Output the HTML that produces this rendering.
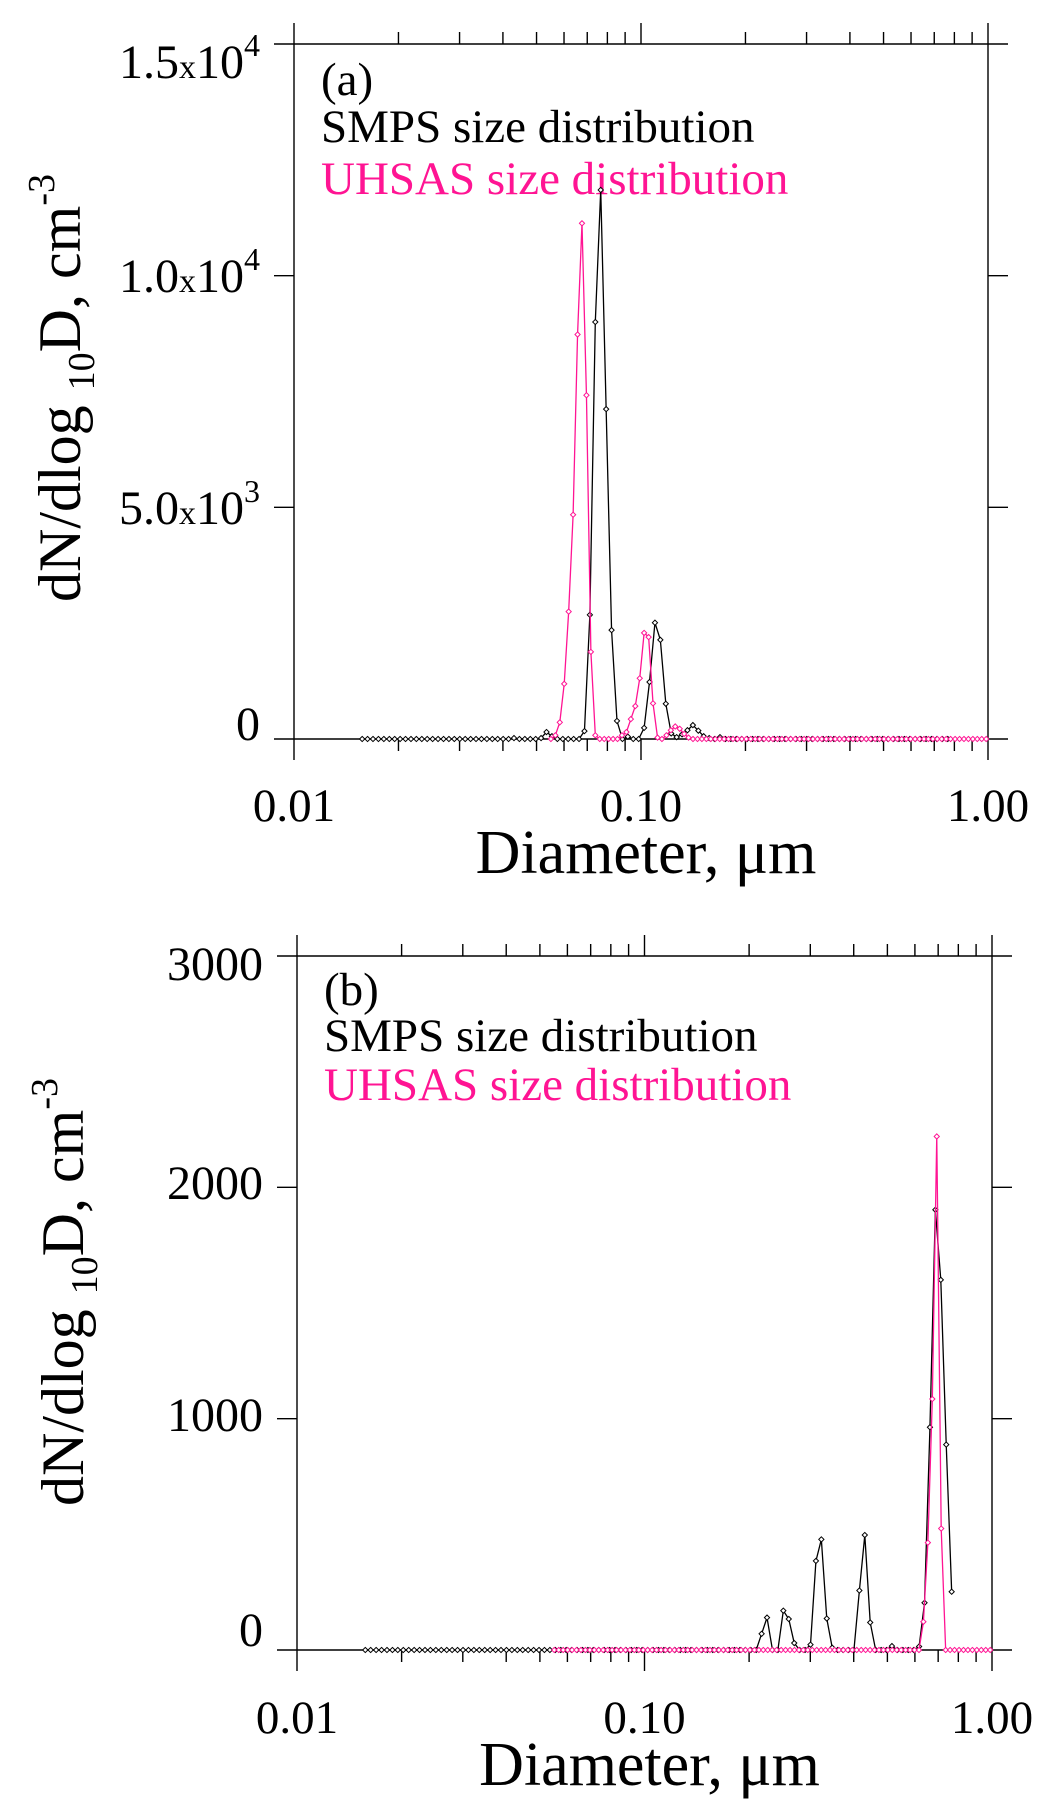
<!DOCTYPE html>
<html><head><meta charset="utf-8">
<style>
html,body{margin:0;padding:0;background:#fff;}
svg{display:block;font-family:"Liberation Serif","Times New Roman",serif;}
</style></head>
<body>
<svg id="fig" width="1051" height="1808" viewBox="0 0 1051 1808" xmlns="http://www.w3.org/2000/svg">
  <rect width="1051" height="1808" fill="#fff"/>
  <g id="panelA"></g>
  <g id="panelB"></g>
</svg>
<script>
// ---- data ----
const smpsDiam = [0.01572,0.01629,0.01689,0.01751,0.01815,0.01882,0.01950,0.02022,0.02096,0.02173,
0.02252,0.02335,0.02420,0.02509,0.02601,0.02697,0.02795,0.02897,0.03004,0.03114,
0.03228,0.03346,0.03469,0.03596,0.03728,0.03864,0.04006,0.04153,0.04305,0.04462,
0.04626,0.04796,0.04971,0.05153,0.05342,0.05538,0.05741,0.05951,0.06169,0.06395,
0.06629,0.06871,0.07123,0.07384,0.07655,0.07935,0.08226,0.08527,0.08840,0.09163,
0.09499,0.09847,0.1021,0.1058,0.1097,0.1137,0.1179,0.1222,0.1267,0.1313,
0.1361,0.1411,0.1463,0.1516,0.1572,0.1629,0.1689,0.1751,0.1815,0.1882,
0.1950,0.2022,0.2096,0.2173,0.2252,0.2335,0.2420,0.2509,0.2601,0.2697,
0.2795,0.2897,0.3004,0.3114,0.3228,0.3346,0.3469,0.3596,0.3728,0.3864,
0.4006,0.4153,0.4305,0.4462,0.4626,0.4796,0.4971,0.5153,0.5342,0.5538,
0.5741,0.5951,0.6169,0.6395,0.6629,0.6871,0.7123,0.7384,0.7655];
const uhsasDiam = [0.05500,0.05665,0.05834,0.06008,0.06188,0.06373,0.06564,0.06760,0.06963,0.07171,
0.07385,0.07606,0.07834,0.08068,0.08309,0.08558,0.08814,0.09078,0.09349,0.09629,
0.09917,0.1021,0.1052,0.1083,0.1116,0.1149,0.1184,0.1219,0.1255,0.1293,
0.1332,0.1371,0.1412,0.1455,0.1498,0.1543,0.1589,0.1637,0.1686,0.1736,
0.1788,0.1841,0.1896,0.1953,0.2011,0.2072,0.2134,0.2197,0.2263,0.2331,
0.2400,0.2473,0.2547,0.2623,0.2701,0.2782,0.2865,0.2951,0.3039,0.3130,
0.3224,0.3320,0.3419,0.3522,0.3627,0.3735,0.3847,0.3962,0.4081,0.4203,
0.4328,0.4458,0.4591,0.4728,0.4870,0.5015,0.5165,0.5320,0.5479,0.5642,
0.5811,0.5985,0.6164,0.6348,0.6538,0.6734,0.6935,0.7142,0.7356,0.7576,
0.7802,0.8038,0.8279,0.8526,0.8781,0.9044,0.9314,0.9593,0.9880];
const smpsA = [0,0,0,0,0,0,0,0,0,0, 0,0,0,0,0,0,0,0,0,0, 0,0,0,0,0,0,0,0,20,0,
0,0,0,20,150,60,0,0,0,0, 0,170,2680,9000,11850,7120,2350,390,0,50,
0,0,240,1230,2510,2140,760,120,40,100, 190,300,180,60,20,0,40,0,0,0,
0,0,0,0,0,0,0,0,0,0, 0,0,0,0,0,0,0,0,0,0, 0,0,0,0,0,0,0,0,0,0, 0,0,0,0,0,0,0,0,0];
const uhsasA = [0,80,360,1190,2750,4840,8730,11130,7420,1880,
80,0,0,0,0,0,80,150,430,710, 1310,2290,2200,770,30,0,80,190,270,220,
110,30,0,0,0,0,0,0,0,0, 0,0,0,0,0,0,0,0,0,0, 0,0,0,0,0,0,0,0,0,0,
0,0,0,0,0,0,0,0,0,0, 0,0,0,0,0,0,0,0,0,0, 0,0,0,0,0,0,0,0,0,0, 0,0,0,0,0,0,0,0,0];
const smpsB = [0,0,0,0,0,0,0,0,0,0, 0,0,0,0,0,0,0,0,0,0, 0,0,0,0,0,0,0,0,0,0,
0,0,0,0,0,0,0,0,0,0, 0,0,0,0,0,0,0,0,0,0, 0,0,0,0,0,0,0,0,0,0, 0,0,0,0,0,0,0,0,0,0,
0,0,0,70,140,0,0,170,134,30, 0,0,23,385,478,136,10,0,0,0,
0,257,497,119,0,0,0,17,0,0, 0,0,15,204,963,1903,1600,888,252];
const uhsasB = [0,0,0,0,0,0,0,0,0,0, 0,0,0,0,0,0,0,0,0,0, 0,0,0,0,0,0,0,0,0,0,
0,0,0,0,0,0,0,0,0,0, 0,0,0,0,0,0,0,0,0,0, 0,0,0,0,0,0,0,0,0,0,
0,0,0,0,0,0,0,0,0,0, 0,0,0,0,0,0,0,0,0,0,
0,0,0,122,464,1085,2220,525,0,0, 0,0,0,0,0,0,0,0,0];
const xTickVals = [0.01,0.1,1];
const xTickLabels = ["0.01","0.10","1.00"];
const yTicksA = [0,5000,10000,15000];
const yLabA = [["0"],["5.0","3"],["1.0","4"],["1.5","4"]];
const yTicksB = [0,1000,2000,3000];
const yLabB = [["0"],["1000"],["2000"],["3000"]];

const NS="http://www.w3.org/2000/svg";
const PINK="#ff1493";
function mk(tag, attrs, parent){const e=document.createElementNS(NS,tag);for(const k in attrs)e.setAttribute(k,attrs[k]);parent.appendChild(e);return e;}

function drawPanel(g, cfg){
  const xs = d => cfg.xL + (Math.log10(d)+2)/2*(cfg.xR-cfg.xL);
  const ys = v => cfg.y0 - v/cfg.yMax*(cfg.y0-cfg.yT);
  const ax = mk('g',{stroke:'#000','stroke-width':1.4,fill:'none'},g);
  
  
  // frame
  mk('line',{x1:cfg.xL,y1:cfg.yT,x2:cfg.xR,y2:cfg.yT},ax);
  mk('line',{x1:cfg.xL,y1:cfg.y0,x2:cfg.xR,y2:cfg.y0},ax);
  mk('line',{x1:cfg.xL,y1:cfg.yT,x2:cfg.xL,y2:cfg.y0},ax);
  mk('line',{x1:cfg.xR,y1:cfg.yT,x2:cfg.xR,y2:cfg.y0},ax);
  // x ticks
  for(let dec=-2;dec<0;dec++){
    for(let m=1;m<=10;m++){
      if(m===10 && dec!==-1) continue;
      const x=xs(m*Math.pow(10,dec));
      const L=(m===1||m===10)?21:12;
      mk('line',{x1:x,y1:cfg.yT,x2:x,y2:cfg.yT-L},ax);
      mk('line',{x1:x,y1:cfg.y0,x2:x,y2:cfg.y0+L},ax);
    }
  }
  // y ticks
  cfg.yt.forEach((v,i)=>{
    const y=ys(v);
    mk('line',{x1:cfg.xL-20,y1:y,x2:cfg.xL,y2:y},ax);
    mk('line',{x1:cfg.xR,y1:y,x2:cfg.xR+20,y2:y},ax);
    const t=mk('text',{x:cfg.xL-34,y:cfg.ylabY[i],'font-size':48,'text-anchor':'end',fill:'#000'},g);
    
    
    const lab=cfg.yl[i];
    if(lab.length===1){t.textContent=lab[0];}
    else{
      const a=mk('tspan',{},t);a.textContent=lab[0];
      const b=mk('tspan',{'font-size':34},t);b.textContent='x';
      const c=mk('tspan',{},t);c.textContent='10';
      const d=mk('tspan',{'font-size':32,dy:-22},t);d.textContent=lab[1];
    }
  });
  xTickVals.forEach((v,i)=>{
    const t=mk('text',{x:xs(v),y:cfg.xlabY,'font-size':47,'text-anchor':'middle',fill:'#000'},g);
    
    
    t.textContent=xTickLabels[i];
  });
  const xt=mk('text',{x:(cfg.xL+cfg.xR)/2+5,y:cfg.xtitY,'font-size':62,'text-anchor':'middle',fill:'#000'},g);
  
  
  xt.textContent='Diameter, \u03bcm';
  const yt=mk('text',{transform:`translate(${cfg.ytitX},${cfg.ytitY}) rotate(-90)`,'font-size':60,'text-anchor':'middle',fill:'#000'},g);
  
  
  let s=mk('tspan',{},yt);s.textContent='dN/dlog ';
  s=mk('tspan',{'font-size':38,dy:14},yt);s.textContent='10';
  s=mk('tspan',{dy:-14},yt);s.textContent='D, cm';
  s=mk('tspan',{'font-size':38,dy:-26},yt);s.textContent='-3';
  // legend
  const lg=mk('g',{'font-size':47},g);
  
  
  let t=mk('text',{x:cfg.legX,y:cfg.legY[0],fill:'#000'},lg);t.textContent=cfg.tag;
  
  
  t=mk('text',{x:cfg.legX,y:cfg.legY[1],fill:'#000'},lg);t.textContent='SMPS size distribution';
  
  
  t=mk('text',{x:cfg.legX,y:cfg.legY[2],fill:PINK},lg);t.textContent='UHSAS size distribution';
  
  
  // series
  function series(dArr,vArr,color,name){
    const sg=mk('g',{},g);
    
    
    const pts=vArr.map((v,i)=>xs(dArr[i]).toFixed(2)+','+ys(v).toFixed(2)).join(' ');
    const pl=mk('polyline',{points:pts,fill:'none',stroke:color,'stroke-width':1.3},sg);
    
    
    vArr.forEach((v,i)=>{
      const x=xs(dArr[i]),y=ys(v),r=2.6;
      const m=mk('polygon',{points:`${x},${y-r} ${x+r},${y} ${x},${y+r} ${x-r},${y}`,fill:'#fff',stroke:color,'stroke-width':1},sg);
      
      
    });
  }
  series(smpsDiam,cfg.smps,'#000',cfg.p+'-smps-series');
  series(uhsasDiam,cfg.uhsas,PINK,cfg.p+'-uhsas-series');
}

drawPanel(document.getElementById('panelA'),{p:'panel-a',xL:294,xR:988,yT:44,y0:739,yMax:15000,
  yt:yTicksA,yl:yLabA,ylabY:[740,524,292,78],xlabY:821,xtitY:873,ytitX:80,ytitY:388,
  legX:321,legY:[95,142,194],tag:'(a)',smps:smpsA,uhsas:uhsasA});
drawPanel(document.getElementById('panelB'),{p:'panel-b',xL:297,xR:992,yT:956,y0:1650,yMax:3000,
  yt:yTicksB,yl:yLabB,ylabY:[1646,1431,1199,980],xlabY:1733,xtitY:1785,ytitX:83,ytitY:1292,
  legX:324,legY:[1005,1051,1100],tag:'(b)',smps:smpsB,uhsas:uhsasB});
</script>
</body></html>
